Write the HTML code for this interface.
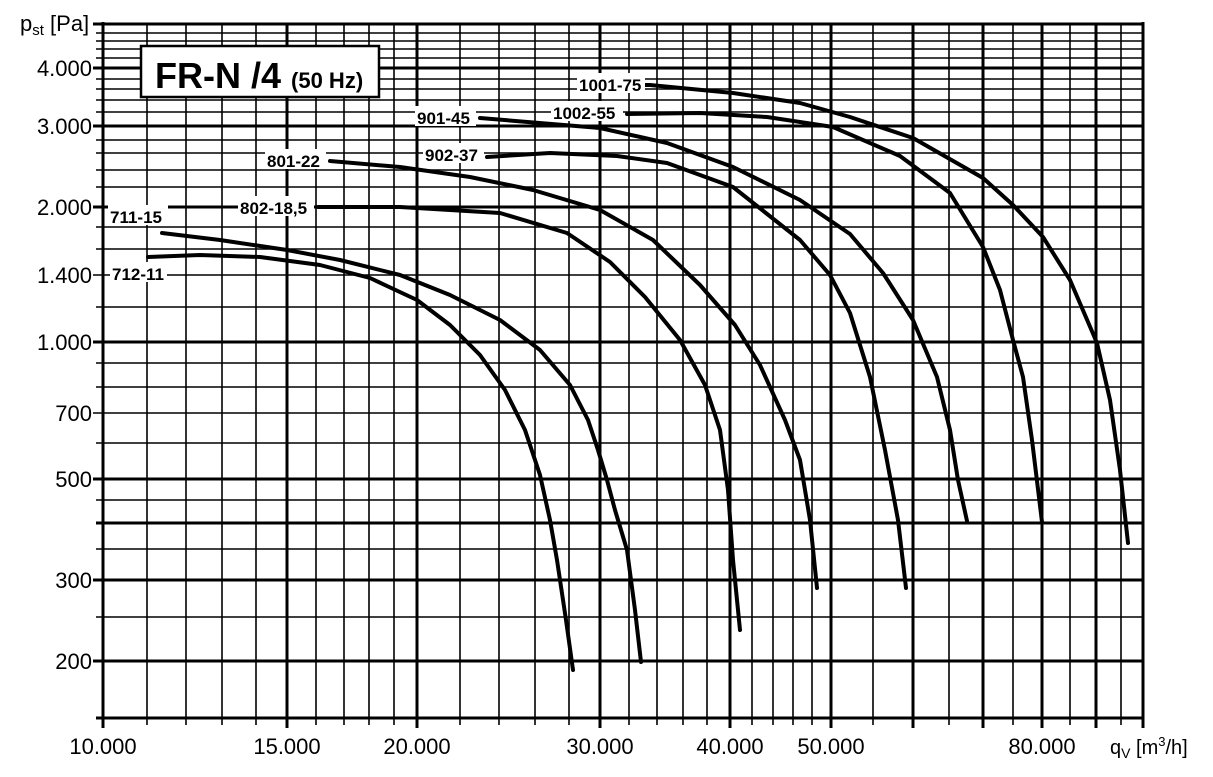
<!DOCTYPE html>
<html><head><meta charset="utf-8"><style>
body{margin:0;background:#fff}
svg text{font-family:"Liberation Sans",Arial,sans-serif}
</style></head><body>
<svg width="1213" height="772" viewBox="0 0 1213 772" xmlns="http://www.w3.org/2000/svg">
<rect width="1213" height="772" fill="#fff"/>
<g stroke="#000" stroke-width="1.6">
<line x1="147" y1="24" x2="147" y2="725"/><line x1="186" y1="24" x2="186" y2="725"/><line x1="222" y1="24" x2="222" y2="725"/><line x1="256" y1="24" x2="256" y2="725"/>
<line x1="316" y1="24" x2="316" y2="725"/><line x1="344" y1="24" x2="344" y2="725"/><line x1="369" y1="24" x2="369" y2="725"/><line x1="394" y1="24" x2="394" y2="725"/>
<line x1="460" y1="24" x2="460" y2="725"/><line x1="499" y1="24" x2="499" y2="725"/><line x1="535" y1="24" x2="535" y2="725"/><line x1="569" y1="24" x2="569" y2="725"/>
<line x1="629" y1="24" x2="629" y2="725"/><line x1="657" y1="24" x2="657" y2="725"/><line x1="683" y1="24" x2="683" y2="725"/><line x1="707" y1="24" x2="707" y2="725"/>
<line x1="752" y1="24" x2="752" y2="725"/><line x1="773" y1="24" x2="773" y2="725"/><line x1="793" y1="24" x2="793" y2="725"/><line x1="812" y1="24" x2="812" y2="725"/>
<line x1="873" y1="24" x2="873" y2="725"/><line x1="949" y1="24" x2="949" y2="725"/><line x1="1013" y1="24" x2="1013" y2="725"/><line x1="1070" y1="24" x2="1070" y2="725"/><line x1="1121" y1="24" x2="1121" y2="725"/>
<line x1="96" y1="33" x2="1143" y2="33"/><line x1="96" y1="41" x2="1143" y2="41"/><line x1="96" y1="49" x2="1143" y2="49"/><line x1="96" y1="58" x2="1143" y2="58"/>
<line x1="96" y1="79" x2="1143" y2="79"/><line x1="96" y1="89" x2="1143" y2="89"/><line x1="96" y1="100" x2="1143" y2="100"/><line x1="96" y1="112" x2="1143" y2="112"/>
<line x1="96" y1="140" x2="1143" y2="140"/><line x1="96" y1="153" x2="1143" y2="153"/><line x1="96" y1="170" x2="1143" y2="170"/><line x1="96" y1="187" x2="1143" y2="187"/>
<line x1="96" y1="227" x2="1143" y2="227"/><line x1="96" y1="249" x2="1143" y2="249"/><line x1="93" y1="275" x2="1143" y2="275"/><line x1="96" y1="307" x2="1143" y2="307"/>
<line x1="96" y1="363" x2="1143" y2="363"/><line x1="96" y1="387" x2="1143" y2="387"/><line x1="93" y1="413" x2="1143" y2="413"/><line x1="96" y1="443" x2="1143" y2="443"/>
<line x1="96" y1="500" x2="1143" y2="500"/><line x1="96" y1="549" x2="1143" y2="549"/><line x1="96" y1="617" x2="1143" y2="617"/>
</g>
<g stroke="#000" stroke-width="3">
<line x1="103" y1="22" x2="103" y2="728"/><line x1="287" y1="24" x2="287" y2="728"/><line x1="417" y1="24" x2="417" y2="728"/><line x1="600" y1="24" x2="600" y2="728"/>
<line x1="730" y1="24" x2="730" y2="728"/><line x1="831" y1="24" x2="831" y2="728"/><line x1="913" y1="24" x2="913" y2="728"/><line x1="983" y1="24" x2="983" y2="728"/>
<line x1="1042" y1="24" x2="1042" y2="728"/><line x1="1096" y1="24" x2="1096" y2="728"/><line x1="1143" y1="22" x2="1143" y2="728"/>
<line x1="93" y1="24" x2="1144" y2="24"/><line x1="93" y1="68" x2="1143" y2="68"/><line x1="93" y1="126" x2="1143" y2="126"/><line x1="93" y1="207" x2="1143" y2="207"/>
<line x1="93" y1="342" x2="1143" y2="342"/><line x1="93" y1="479" x2="1143" y2="479"/><line x1="96" y1="523" x2="1143" y2="523"/><line x1="93" y1="580" x2="1143" y2="580"/>
<line x1="93" y1="661" x2="1143" y2="661"/><line x1="96" y1="718" x2="1144" y2="718"/>
</g>
<g fill="none" stroke="#000" stroke-width="4" stroke-linecap="round" stroke-linejoin="round">
<polyline points="162,233 220,240 287,250 340,260 400,275 450,295 500,320 540,350 570,385 588,420 598,450 607,480 615,510 627,550 635,610 641,662"/>
<polyline points="148,257 200,255 260,257 320,265 370,278 417,300 450,325 480,355 505,390 525,430 540,475 550,520 557,560 566,620 573,670"/>
<polyline points="318,207 400,207 500,213 567,233 610,262 645,297 680,340 705,385 720,430 728,490 733,560 740,630"/>
<polyline points="330,161 400,167 470,177 533,190 600,210 653,240 700,285 735,325 760,365 785,420 800,460 810,520 817,588"/>
<polyline points="487,157 550,153 617,156 667,163 733,187 800,240 830,275 850,313 870,377 885,450 898,520 906,588"/>
<polyline points="480,118 600,128 667,143 733,167 800,200 850,234 883,273 913,320 937,377 950,430 958,480 967,521"/>
<polyline points="627,114 700,113 767,117 833,127 900,156 950,193 983,247 1000,290 1013,340 1023,377 1032,440 1042,522"/>
<polyline points="602,85 650,85 733,93 800,103 850,117 913,138 983,178 1013,205 1043,237 1070,280 1097,343 1110,400 1120,470 1128,543"/>
</g>
<g fill="#fff">
<rect x="577" y="73" width="68" height="20"/><rect x="551" y="101" width="72" height="20"/><rect x="415" y="106" width="61" height="20"/>
<rect x="423" y="143" width="61" height="20"/><rect x="265" y="149" width="61" height="20"/><rect x="238" y="196" width="76" height="20"/>
<rect x="108" y="205" width="60" height="20"/><rect x="110" y="262" width="57" height="20"/>
</g>
<g font-size="17" font-weight="bold">
<text x="579" y="91">1001-75</text><text x="553" y="119">1002-55</text><text x="417" y="124">901-45</text><text x="425" y="161">902-37</text>
<text x="267" y="167">801-22</text><text x="240" y="214">802-18,5</text><text x="110" y="223">711-15</text><text x="112" y="280">712-11</text>
</g>
<rect x="141" y="46" width="238" height="51" fill="#fff" stroke="#000" stroke-width="2.5"/>
<text x="155" y="88" font-size="36" font-weight="bold">FR-N /4 <tspan font-size="22">(50 Hz)</tspan></text>
<text x="20" y="31" font-size="22">p<tspan font-size="15" dy="4">st</tspan><tspan dy="-4"> [Pa]</tspan></text>
<g font-size="22" text-anchor="end">
<text x="92" y="76">4.000</text><text x="92" y="134">3.000</text><text x="92" y="215">2.000</text>
<text x="92" y="283">1.400</text><text x="92" y="350">1.000</text><text x="92" y="421">700</text>
<text x="92" y="487">500</text><text x="92" y="588">300</text><text x="92" y="669">200</text>
</g>
<g font-size="22" text-anchor="middle">
<text x="103" y="754">10.000</text><text x="287" y="754">15.000</text><text x="417" y="754">20.000</text>
<text x="600" y="754">30.000</text><text x="730" y="754">40.000</text><text x="831" y="754">50.000</text>
<text x="1042" y="754">80.000</text>
</g>
<text x="1110" y="754" font-size="20">q<tspan font-size="14" dy="4">V</tspan><tspan dy="-4"> [m</tspan><tspan font-size="13" dy="-8">3</tspan><tspan dy="8">/h]</tspan></text>
</svg>
</body></html>
